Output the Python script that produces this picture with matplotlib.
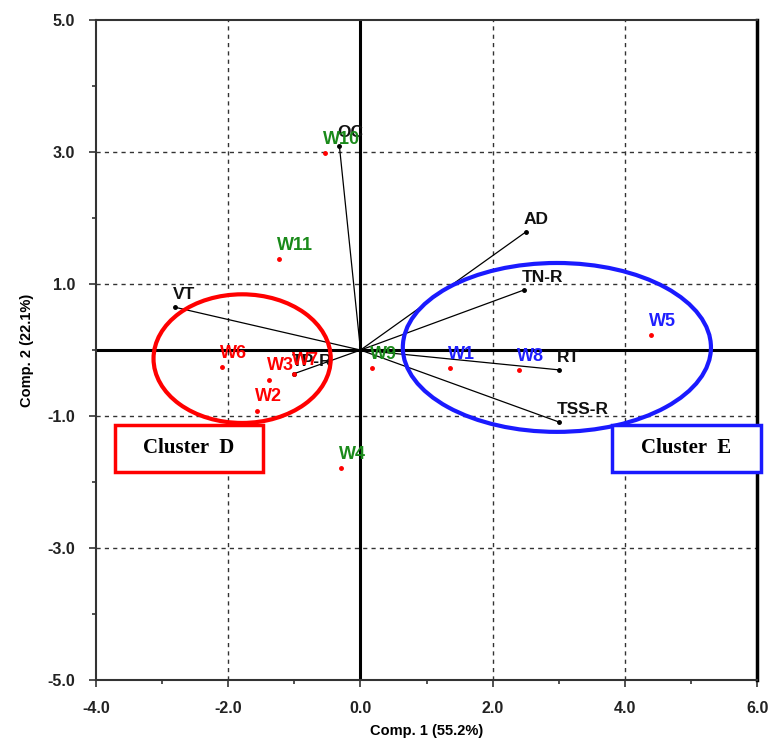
import matplotlib
matplotlib.use("Agg")
import matplotlib.pyplot as plt
from matplotlib.patches import Ellipse, Rectangle

# sample scores
sites = ["W10", "W11", "W6", "W3", "W7", "W2", "W4", "W9", "W1", "W8", "W5"]
site_x = [-0.54, -1.24, -2.09, -1.39, -1.01, -1.57, -0.29, 0.18, 1.35, 2.39, 4.40]
site_y = [2.98, 1.38, -0.26, -0.45, -0.36, -0.92, -1.79, -0.27, -0.27, -0.30, 0.23]
site_colors = ["#1a8a1a", "#1a8a1a", "red", "red", "red", "red", "#1a8a1a",
               "#1a8a1a", "#1f1fff", "#1f1fff", "#1f1fff"]

# variable loadings
variables = ["OC", "AD", "TN-R", "RT", "TSS-R", "VT", "TP-R"]
var_x = [-0.32, 2.50, 2.47, 3.00, 3.00, -2.81, -1.01]
var_y = [3.10, 1.79, 0.91, -0.30, -1.09, 0.65, -0.36]

# clusters: centre x, centre y, width, height
cluster_d = (-1.79, -0.13, 2.68, 1.95)
cluster_e = (2.97, 0.04, 4.66, 2.56)

fig = plt.figure(figsize=(7.68, 7.48), dpi=100)
ax = fig.add_axes([0.125, 0.091, 0.861, 0.882])

ax.set_xlim(-4, 6)
ax.set_ylim(-5, 5)

# grid
for gx in [-2, 2, 4]:
    ax.axvline(gx, color="#333333", lw=1.0, ls=(0, (3, 3)), zorder=1)
for gy in [-3, -1, 1, 3]:
    ax.axhline(gy, color="#333333", lw=1.0, ls=(0, (3, 3)), zorder=1)
ax.axhline(0, color="black", lw=2.2, zorder=2)
ax.axvline(0, color="black", lw=2.2, zorder=2)

# loading vectors
for name, vx, vy in zip(variables, var_x, var_y):
    ax.plot([0, vx], [0, vy], color="black", lw=0.9, zorder=3)
    ax.plot(vx, vy, marker="o", ms=2.5, color="black", zorder=3)
    ax.text(vx - 0.03, vy + 0.08, name, fontsize=12.5, fontweight="bold",
            family="Liberation Sans", color="#111111", ha="left", va="bottom",
            zorder=4)

# sample points
for name, sx, sy, c in zip(sites, site_x, site_y, site_colors):
    ax.plot(sx, sy, marker="o", ms=2.5, color="red", zorder=5)
    ax.text(sx - 0.03, sy + 0.08, name, fontsize=13, fontweight="bold",
            family="Liberation Sans", color=c, ha="left", va="bottom", zorder=5)

# cluster ellipses
cx, cy, w, h = cluster_d
ax.add_patch(Ellipse((cx, cy), w, h, fill=False, ec="red", lw=3, zorder=6))
cx, cy, w, h = cluster_e
ax.add_patch(Ellipse((cx, cy), w, h, fill=False, ec="#1a1aff", lw=3, zorder=6))

# cluster label boxes
ax.add_patch(Rectangle((-3.72, -1.85), 2.25, 0.71, fill=True, fc="white",
                       ec="red", lw=2.5, zorder=7, clip_on=False))
ax.text(-2.595, -1.49, "Cluster  D", fontsize=15, fontweight="bold",
        family="Liberation Serif", ha="center", va="center", zorder=8)
ax.add_patch(Rectangle((3.81, -1.85), 2.24, 0.71, fill=True, fc="white",
                       ec="#1a1aff", lw=2.5, zorder=7, clip_on=False))
ax.text(4.93, -1.49, "Cluster  E", fontsize=15, fontweight="bold",
        family="Liberation Serif", ha="center", va="center", zorder=8)

# ticks
ax.set_xticks([-4, -2, 0, 2, 4, 6])
ax.set_xticks([-3, -1, 1, 3, 5], minor=True)
ax.set_yticks([-5, -3, -1, 1, 3, 5])
ax.set_yticks([-4, -2, 0, 2, 4], minor=True)
ax.set_xticklabels(["%.1f" % v for v in ax.get_xticks()])
ax.set_yticklabels(["%.1f" % v for v in ax.get_yticks()])
ax.tick_params(which="both", direction="out", width=1.2, color="#333333")
ax.tick_params(which="major", length=5, pad=10)
ax.tick_params(which="minor", length=3)
for lab in ax.get_xticklabels() + ax.get_yticklabels():
    lab.set_fontweight("bold")
    lab.set_family("Liberation Sans")
    lab.set_fontsize(11.5)
    lab.set_color("#222222")

for side in ["left", "bottom", "top", "right"]:
    ax.spines[side].set_color("#333333")
    ax.spines[side].set_linewidth(1.5)
ax.spines["right"].set_color("black")
ax.spines["right"].set_linewidth(2.5)

ax.set_xlabel("Comp. 1 (55.2%)", fontsize=10.5, fontweight="bold",
              family="Liberation Sans", labelpad=6)
ax.set_ylabel("Comp. 2 (22.1%)", fontsize=10.5, fontweight="bold",
              family="Liberation Sans", labelpad=10)

fig.savefig("out.png", dpi=100)
